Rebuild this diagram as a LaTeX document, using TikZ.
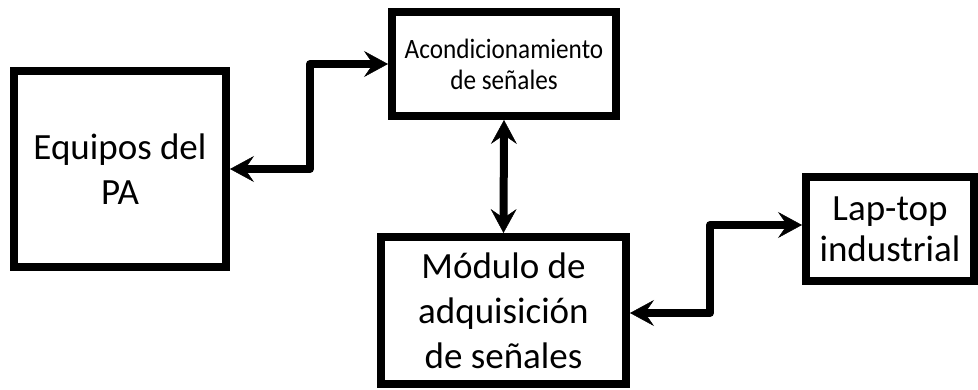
\documentclass[tikz,border=0pt]{standalone}
\usepackage{fontspec}
\setmainfont{Carlito}
\newfontfamily\narrowfont[FakeStretch=0.9]{Carlito}
\usetikzlibrary{arrows.meta}
\begin{document}
\begin{tikzpicture}[x=1pt,y=-1pt,
  blk/.style={draw=black, line width=8pt, fill=white, inner sep=0pt, align=center,
    font=\fontsize{37}{45}\selectfont},
  conn/.style={line width=8pt, line join=round,
    {Stealth[length=24pt,width=26pt,inset=9pt,line width=0.5pt]}-{Stealth[length=24pt,width=26pt,inset=9pt,line width=0.5pt]}}]
\useasboundingbox (0,0) rectangle (978,390);
\node[blk, minimum width=212pt, minimum height=196pt] (eq) at (120,169) {Equipos del\\PA};
\node[blk, minimum width=224pt, minimum height=104pt, font=\narrowfont\fontsize{28}{31}\selectfont] (ac) at (504,64) {Acondicionamiento\\de señales};
\node[blk, minimum width=245pt, minimum height=147pt] (mod) at (503.5,310.5) {Módulo de\\adquisición\\de señales};
\node[blk, minimum width=168pt, minimum height=104pt, font=\fontsize{37}{41}\selectfont] (lt) at (890,229) {Lap-top\\industrial};
\draw[conn] (eq.east) -- ++(80,0) |- (ac.west);
\draw[conn] (ac.south) -- (mod.north);
\draw[conn] ([yshift=-2.5pt]mod.east) -- ++(80,0) |- ([yshift=4pt]lt.west);
\end{tikzpicture}
\end{document}
